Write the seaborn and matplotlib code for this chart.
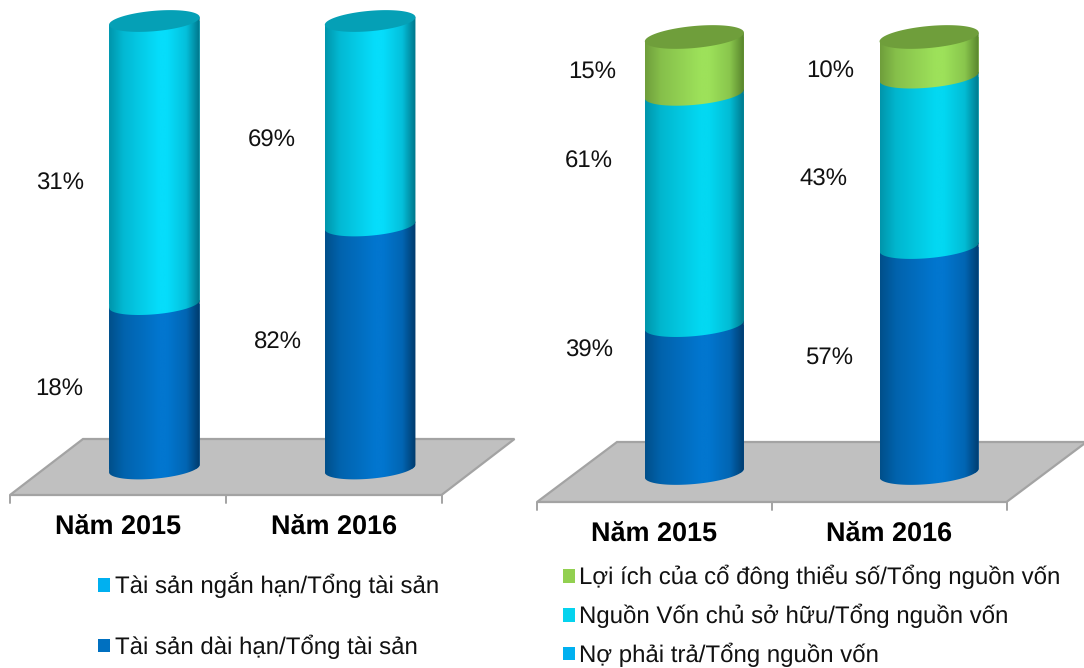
import numpy as np
import pandas as pd
import matplotlib
matplotlib.use("Agg")
import matplotlib.pyplot as plt
from matplotlib.colors import LinearSegmentedColormap, to_rgb
from matplotlib.patches import Polygon, Patch
from matplotlib.transforms import ScaledTranslation
import seaborn as sns

# ---------- data ----------
years = ["Năm 2015", "Năm 2016"]

assets_long = [18, 82]
assets_short = [31, 69]
asset_names = ["Tài sản dài hạn/Tổng tài sản", "Tài sản ngắn hạn/Tổng tài sản"]

debt = [39, 57]
equity = [61, 43]
minority = [15, 10]
capital_names = ["Nợ phải trả/Tổng nguồn vốn",
                 "Nguồn Vốn chủ sở hữu/Tổng nguồn vốn",
                 "Lợi ích của cổ đông thiểu số/Tổng nguồn vốn"]

# ---------- styles ----------
W, H, DPI = 1084, 668, 100
BLUE = dict(peak="#0276CF", left="#004F8A", right="#003A6B", top="#00558F", legend="#0070C0")
CYAN = dict(peak="#06DDFB", left="#0095AB", right="#007488", top="#05A0B6", legend="#00B0F0")
CYAN2 = dict(peak="#03D8F2", left="#0095AB", right="#007488", top="#05A0B6", legend="#05D3EE")
GREEN = dict(peak="#9DE15A", left="#6F9E3B", right="#55802A", top="#6F9E3B", legend="#92D050")
LEG_BLUE = "#00B0F0"

sns.set_theme(style="white")
plt.rcParams["font.family"] = ["Liberation Sans", "DejaVu Sans"]
plt.rcParams["text.hinting"] = "no_hinting"
plt.rcParams["text.hinting_factor"] = 1
plt.rcParams["text.color"] = "#111111"

fig = plt.figure(figsize=(W / DPI, H / DPI), dpi=DPI, facecolor="white")


def shade(st):
    mix = lambda a, b, t: tuple(np.array(to_rgb(a)) * (1 - t) + np.array(to_rgb(b)) * t)
    return LinearSegmentedColormap.from_list("c", [
        (0.0, st["left"]), (0.16, mix(st["left"], st["peak"], 0.5)),
        (0.55, st["peak"]), (0.64, st["peak"]),
        (0.85, mix(st["right"], st["peak"], 0.72)), (1.0, st["right"])])


def panel(box, floor, series, styles, k_px, b_px, pad_px):
    """box: axes rect in pixels (left, top, right, bottom). floor: pixel offsets of floor."""
    left, top, right, bottom = box
    ax = fig.add_axes([left / W, 1 - bottom / H, (right - left) / W, (bottom - top) / H])
    ax.patch.set_visible(False)
    px_y = (bottom - top) / 100.0
    px_x = (right - left) / 2.0

    totals = np.sum(series, axis=0)
    shares = [np.array(s) / totals * 100 for s in series]
    base = np.zeros(2)
    bars = []
    for s, st in zip(shares, styles):
        df = pd.DataFrame({"year": years, "share": s})
        n = len(ax.patches)
        sns.barplot(data=df, x="year", y="share", bottom=base, color=st["peak"],
                    saturation=1, width=floor["bar"], ax=ax, zorder=2)
        bars.append((ax.patches[n:], base.copy(), st))
        base = base + s

    ax.set_xlim(-0.5, 1.5)
    ax.set_ylim(0, 100)
    sns.despine(ax=ax, left=True, bottom=True)
    ax.set_xlabel("")
    ax.set_ylabel("")
    ax.set_yticks([])

    # floor
    dx = floor["dx"] / px_x
    f_y, b_y = floor["front"] / px_y, floor["back"] / px_y
    ax.add_patch(Polygon([(-0.5 - dx, f_y), (-0.5 + dx, b_y), (1.5 + dx, b_y), (1.5 - dx, f_y)],
                         closed=True, fc="#C0C0C0", ec="#A3A3A3", lw=1.6, zorder=0, clip_on=False))
    for x in (-0.5, 0.5, 1.5):
        ax.plot([x - dx, x - dx], [f_y, f_y - 7.5 / px_y], color="#A3A3A3", lw=1.4, clip_on=False, zorder=0)

    # cylinders
    k, b = k_px / px_y, b_px / px_y
    t_front = np.linspace(0, np.pi, 80)
    zo = 3
    for patches, _, st in bars:
        cmap = shade(st)
        for p in patches:
            x0, w, y0, h = p.get_x(), p.get_width(), p.get_y(), p.get_height()
            cx, a = x0 + w / 2, w / 2
            lower = np.c_[cx + a * np.cos(t_front), y0 + k * np.cos(t_front) - b * np.sin(t_front)]
            y1 = y0 + h
            upper = np.array([[x0, y1 - k], [x0 + w, y1 + k]])
            poly = Polygon(np.vstack([lower, upper]), closed=True, transform=ax.transData)
            im = ax.imshow(np.linspace(0, 1, 256)[None, :], cmap=cmap, aspect="auto", vmin=0, vmax=1,
                           extent=(x0, x0 + w, y0 - 4 * b, y1 + 4 * b), zorder=zo, interpolation="bilinear")
            im.set_clip_path(poly)
            im.set_clip_box(fig.bbox)
            p.set_clip_path(poly)
            p.set_clip_box(fig.bbox)
            p.set_linewidth(0)
            zo += 1
    # caps on the top series
    patches, _, st = bars[-1]
    t_all = np.linspace(0, 2 * np.pi, 160)
    for p in patches:
        x0, w, y0, h = p.get_x(), p.get_width(), p.get_y(), p.get_height()
        cx, a = x0 + w / 2, w / 2
        ax.add_patch(Polygon(np.c_[cx + a * np.cos(t_all), y0 + h + k * np.cos(t_all) - b * np.sin(t_all)],
                             closed=True, fc=st["top"], ec="none", zorder=20, clip_on=False))
    ax.set_xlim(-0.5, 1.5)
    ax.set_ylim(0, 100)

    # category labels, sheared forward to the front of the floor
    ax.tick_params(axis="x", length=0, pad=pad_px * 72 / DPI, labelsize=19.2)
    shift = ScaledTranslation(-floor["dx"] / DPI, 0, fig.dpi_scale_trans)
    for lab in ax.get_xticklabels():
        lab.set_transform(lab.get_transform() + shift)
        lab.set_fontweight("bold")
        lab.set_color("black")
    return ax


# ---------- left panel ----------
ax1 = panel((46.5, 21, 478, 468.5), dict(dx=36.5, front=-26.5, back=29.5, bar=0.42),
            [assets_long, assets_short], [BLUE, CYAN], 3.8, 10.2, 47)
# ---------- right panel ----------
ax2 = panel((577, 37, 1046.5, 473), dict(dx=40, front=-29, back=31, bar=0.422),
            [debt, equity, minority], [BLUE, CYAN2, GREEN], 4.4, 11, 49)

# ---------- value labels ----------
label_pos = [
    (assets_short[0], 60, 181), (assets_short[1], 272, 138),
    (assets_long[0], 59, 387), (assets_long[1], 278, 340),
    (minority[0], 592, 69), (equity[0], 589, 159), (debt[0], 589, 348),
    (minority[1], 830, 69), (equity[1], 823, 177), (debt[1], 829, 355),
]
for val, x, y in label_pos:
    fig.text(x / W, 1 - y / H, f"{val}%", ha="center", va="center_baseline", fontsize=17.4)

# ---------- legends ----------
handles1 = [Patch(fc=LEG_BLUE, ec="none"), Patch(fc=BLUE["legend"], ec="none")]
leg1 = fig.legend(handles1, asset_names[::-1], loc="upper left", bbox_to_anchor=(98 / W, 1 - 572.5 / H),
                  frameon=False, fontsize=17.45, labelspacing=1.5, handlelength=0.5, handleheight=0.5,
                  handletextpad=0.2, borderpad=0, borderaxespad=0, labelcolor="#111111")
handles2 = [Patch(fc=GREEN["legend"], ec="none"), Patch(fc=CYAN2["legend"], ec="none"), Patch(fc=LEG_BLUE, ec="none")]
leg2 = fig.legend(handles2, capital_names[::-1], loc="upper left", bbox_to_anchor=(562.5 / W, 1 - 565 / H),
                  frameon=False, fontsize=17.45, labelspacing=0.6, handlelength=0.5, handleheight=0.5,
                  handletextpad=0.2, borderpad=0, borderaxespad=0, labelcolor="#111111")

fig.savefig("out.png", dpi=DPI)
